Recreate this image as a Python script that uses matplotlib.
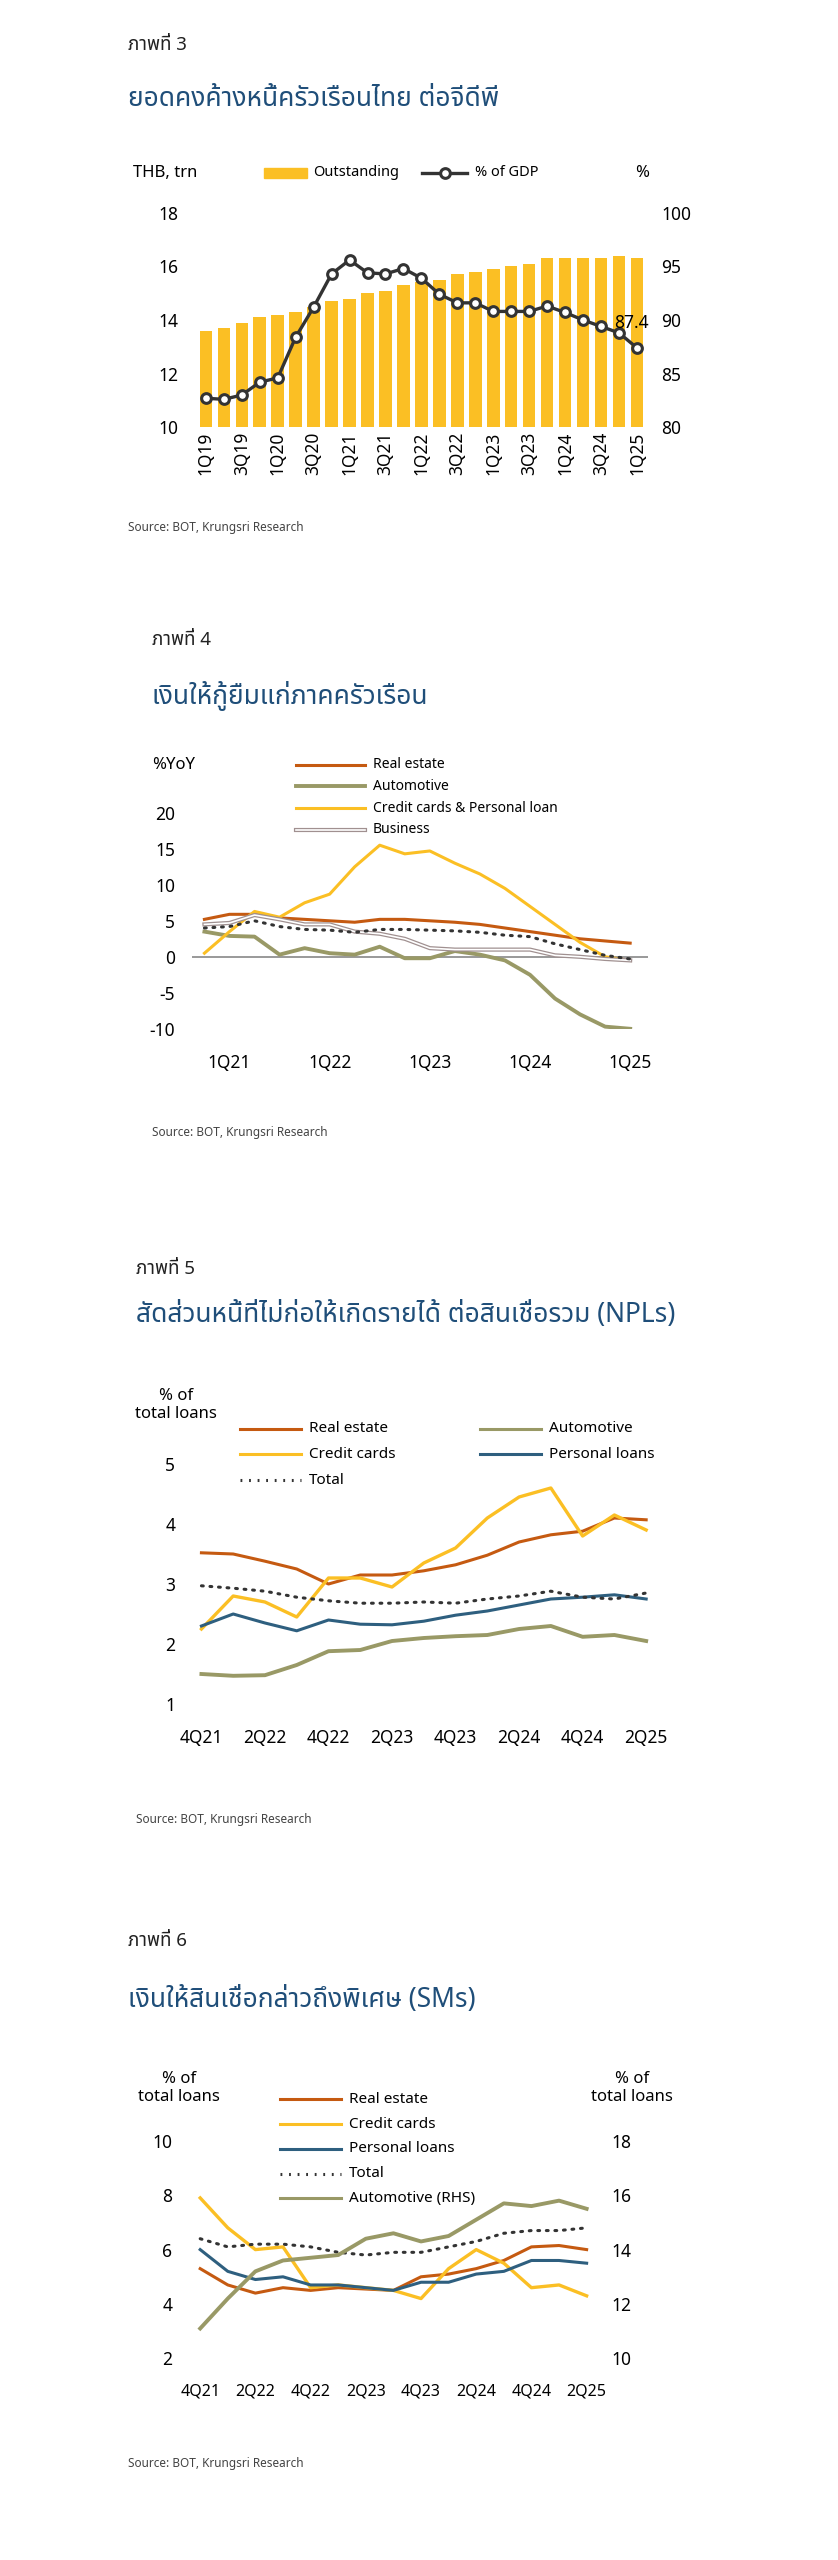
import matplotlib
matplotlib.use("Agg")
import matplotlib.pyplot as plt
import numpy as np

plt.rcParams["font.family"] = ["Noto Sans Thai", "Noto Sans Thai Looped", "Loma", "Garuda", "Noto Sans", "DejaVu Sans"]

# ---- data ----
q1 = ["1Q19", "2Q19", "3Q19", "4Q19", "1Q20", "2Q20", "3Q20", "4Q20", "1Q21", "2Q21", "3Q21", "4Q21",
      "1Q22", "2Q22", "3Q22", "4Q22", "1Q23", "2Q23", "3Q23", "4Q23", "1Q24", "2Q24", "3Q24", "4Q24", "1Q25"]
outstanding = [13.6, 13.7, 13.9, 14.1, 14.2, 14.3, 14.5, 14.7, 14.8, 15.0, 15.1, 15.3, 15.4, 15.5, 15.7,
               15.8, 15.9, 16.0, 16.1, 16.3, 16.3, 16.3, 16.3, 16.4, 16.3]
pct_gdp = [82.7, 82.6, 83.0, 84.2, 84.6, 88.4, 91.2, 94.3, 95.6, 94.4, 94.3, 94.8, 93.9, 92.4, 91.6,
           91.6, 90.8, 90.8, 90.8, 91.3, 90.7, 90.0, 89.4, 88.8, 87.4]

q2 = ["4Q20", "1Q21", "2Q21", "3Q21", "4Q21", "1Q22", "2Q22", "3Q22", "4Q22", "1Q23", "2Q23", "3Q23",
      "4Q23", "1Q24", "2Q24", "3Q24", "4Q24", "1Q25"]
yoy_real = [5.2, 5.9, 5.9, 5.4, 5.2, 5.0, 4.8, 5.2, 5.2, 5.0, 4.8, 4.5, 4.0, 3.5, 3.0, 2.5, 2.2, 1.9]
yoy_auto = [3.5, 2.9, 2.8, 0.3, 1.2, 0.5, 0.3, 1.4, -0.2, -0.2, 0.8, 0.3, -0.5, -2.5, -5.8, -8.0, -9.7, -10.0]
yoy_cc = [0.5, 3.5, 6.3, 5.5, 7.5, 8.7, 12.5, 15.5, 14.3, 14.7, 13.0, 11.5, 9.5, 7.0, 4.5, 2.0, 0.0, -0.5]
yoy_bus = [4.5, 4.7, 5.8, 5.2, 4.5, 4.5, 3.5, 3.2, 2.5, 1.2, 1.0, 1.0, 1.0, 1.0, 0.2, 0.0, -0.3, -0.5]
yoy_total = [4.0, 4.2, 5.0, 4.2, 3.8, 3.7, 3.4, 3.8, 3.8, 3.7, 3.6, 3.4, 3.0, 2.8, 1.8, 1.0, 0.2, -0.3]
ticks2 = ["1Q21", "1Q22", "1Q23", "1Q24", "1Q25"]

q3 = ["4Q21", "1Q22", "2Q22", "3Q22", "4Q22", "1Q23", "2Q23", "3Q23", "4Q23", "1Q24", "2Q24", "3Q24",
      "4Q24", "1Q25", "2Q25"]
ticks3 = ["4Q21", "2Q22", "4Q22", "2Q23", "4Q23", "2Q24", "4Q24", "2Q25"]
npl_real = [3.52, 3.5, 3.38, 3.25, 3.0, 3.15, 3.15, 3.22, 3.32, 3.48, 3.7, 3.82, 3.88, 4.1, 4.07]
npl_cc = [2.25, 2.8, 2.7, 2.45, 3.1, 3.1, 2.95, 3.35, 3.6, 4.1, 4.45, 4.6, 3.8, 4.15, 3.9]
npl_pers = [2.3, 2.5, 2.35, 2.22, 2.4, 2.33, 2.32, 2.38, 2.48, 2.55, 2.65, 2.75, 2.78, 2.82, 2.75]
npl_auto = [1.5, 1.47, 1.48, 1.65, 1.88, 1.9, 2.05, 2.1, 2.13, 2.15, 2.25, 2.3, 2.12, 2.15, 2.05]
npl_total = [2.97, 2.93, 2.88, 2.78, 2.72, 2.68, 2.68, 2.7, 2.68, 2.75, 2.8, 2.88, 2.78, 2.75, 2.85]

sm_real = [5.3, 4.7, 4.4, 4.6, 4.5, 4.6, 4.55, 4.5, 5.0, 5.1, 5.3, 5.6, 6.1, 6.15, 6.0]
sm_cc = [7.9, 6.8, 6.0, 6.1, 4.6, 4.7, 4.6, 4.5, 4.2, 5.3, 6.0, 5.5, 4.6, 4.7, 4.3]
sm_pers = [6.0, 5.2, 4.9, 5.0, 4.7, 4.7, 4.6, 4.5, 4.8, 4.8, 5.1, 5.2, 5.6, 5.6, 5.5]
sm_total = [6.4, 6.1, 6.2, 6.2, 6.1, 5.9, 5.8, 5.9, 5.9, 6.1, 6.3, 6.6, 6.7, 6.7, 6.8]
sm_auto = [11.1, 12.2, 13.2, 13.6, 13.7, 13.8, 14.4, 14.6, 14.3, 14.5, 15.1, 15.7, 15.6, 15.8, 15.5]

ORANGE = "#c55a11"
YELLOW = "#fbbf24"
OLIVE = "#999966"
BLUE = "#2e5f7f"
DARK = "#333333"
TITLE = "#1f4e79"
DOT = (0, (0.6, 2.2))

W, H = 524.0, 1600.0
fig = plt.figure(figsize=(8.38, 25.6), dpi=100)


def ax_at(x0, y0, x1, y1):
    return fig.add_axes([x0 / W, 1 - y1 / H, (x1 - x0) / W, (y1 - y0) / H])


def txt(x, y, s, size=9, **kw):
    fig.text(x / W, 1 - y / H, s, fontsize=size, va="center", **kw)


def clean(ax, size=12.5):
    for s in ax.spines.values():
        s.set_visible(False)
    ax.tick_params(length=0, labelsize=size)


def fig_line(x0, x1, y, **kw):
    fig.lines.append(plt.Line2D([x0 / W, x1 / W], [1 - y / H] * 2, transform=fig.transFigure, **kw))


SRC = "Source: BOT, Krungsri Research"

# ---- chart 1 ----
txt(80, 28, "ภาพที่ 3", 13.5, color="#222222")
txt(80, 62, "ยอดคงค้างหนี้ครัวเรือนไทย ต่อจีดีพี", 19, color=TITLE)
ax = ax_at(122, 133, 405, 267)
x = np.arange(len(q1))
ax.bar(x, outstanding, width=0.7, color=YELLOW)
ax.set_ylim(10, 18)
ax.set_yticks([10, 12, 14, 16, 18])
ax.set_xlim(-0.6, len(q1) - 0.4)
ax.set_xticks(x[::2])
ax.set_xticklabels(q1[::2], rotation=90)
clean(ax)
ax.tick_params(axis="y", pad=12)
ax2 = ax.twinx()
ax2.plot(x, pct_gdp, color=DARK, lw=2.4, marker="o", ms=7, mfc="white", mec=DARK, mew=2.2)
ax2.set_ylim(80, 100)
ax2.set_yticks([80, 85, 90, 95, 100])
clean(ax2)
ax2.tick_params(pad=10)
ax2.annotate("87.4", (x[-1], pct_gdp[-1]), xytext=(-4, 14), textcoords="offset points", ha="center", fontsize=12.5)
txt(83, 108, "THB, trn", 12)
txt(397, 108, "%", 12)
fig.patches.append(plt.Rectangle((165 / W, 1 - 111 / H), 27 / W, 6 / H, color=YELLOW, transform=fig.transFigure))
txt(196, 108, "Outstanding", 10.5)
fig_line(264, 292, 108, color=DARK, lw=2.4)
fig.lines.append(plt.Line2D([278 / W], [1 - 108 / H], color=DARK, marker="o", ms=7, mfc="white", mew=2.2,
                            transform=fig.transFigure))
txt(297, 108, "% of GDP", 10.5)
txt(80, 330, SRC, 8.5, color="#444444")

# ---- chart 2 ----
txt(95, 400, "ภาพที่ 4", 13.5, color="#222222")
txt(95, 435, "เงินให้กู้ยืมแก่ภาคครัวเรือน", 19, color=TITLE)
ax = ax_at(120, 508, 405, 643)
x = np.arange(len(q2))
ax.axhline(0, color="#888888", lw=1.2)
ax.plot(x, yoy_real, color=ORANGE, lw=2.2)
ax.plot(x, yoy_auto, color=OLIVE, lw=2.8)
ax.plot(x, yoy_cc, color=YELLOW, lw=2.2)
ax.plot(x, yoy_bus, color="#a09090", lw=3)
ax.plot(x, yoy_bus, color="white", lw=1.2)
ax.plot(x, yoy_total, color=DARK, lw=2.2, ls=DOT, dash_capstyle="round")
ax.set_ylim(-10, 20)
ax.set_yticks([-10, -5, 0, 5, 10, 15, 20])
ax.set_xlim(-0.5, len(q2) - 0.3)
ax.set_xticks([q2.index(t) for t in ticks2])
ax.set_xticklabels(ticks2)
clean(ax)
ax.tick_params(axis="x", pad=18)
ax.tick_params(axis="y", pad=12)
txt(95, 478, "%YoY", 12)
for i, (lab, col, lw) in enumerate([("Real estate", ORANGE, 2.2), ("Automotive", OLIVE, 2.8),
                                    ("Credit cards & Personal loan", YELLOW, 2.2), ("Business", "#a09090", 3)]):
    ly = 478 + i * 13.5
    fig_line(185, 228, ly, color=col, lw=lw)
    if lab == "Business":
        fig_line(185, 228, ly, color="white", lw=1.2)
    txt(233, ly, lab, 10, fontweight="bold")
txt(95, 708, SRC, 8.5, color="#444444")

# ---- chart 3 ----
txt(85, 793, "ภาพที่ 5", 13.5, color="#222222")
txt(85, 822, "สัดส่วนหนี้ที่ไม่ก่อให้เกิดรายได้ ต่อสินเชื่อรวม (NPLs)", 19, color=TITLE)
ax = ax_at(120, 915, 410, 1065)
x = np.arange(len(q3))
ax.plot(x, npl_real, color=ORANGE, lw=2.2)
ax.plot(x, npl_auto, color=OLIVE, lw=2.8)
ax.plot(x, npl_cc, color=YELLOW, lw=2.4)
ax.plot(x, npl_pers, color=BLUE, lw=2.2)
ax.plot(x, npl_total, color=DARK, lw=2.2, ls=DOT, dash_capstyle="round")
ax.set_ylim(1, 5)
ax.set_yticks([1, 2, 3, 4, 5])
ax.set_xlim(-0.3, len(q3) - 0.7)
ax.set_xticks([q3.index(t) for t in ticks3])
ax.set_xticklabels(ticks3)
clean(ax)
ax.tick_params(axis="x", pad=18)
ax.tick_params(axis="y", pad=12)
txt(110, 878, "% of\ntotal loans", 12, ha="center", linespacing=1.2)
leg3 = [(150, 893, "Real estate", ORANGE, "-"), (150, 909, "Credit cards", YELLOW, "-"),
        (150, 925, "Total", DARK, ":"), (300, 893, "Automotive", OLIVE, "-"), (300, 909, "Personal loans", BLUE, "-")]
for lx, ly, lab, col, ls in leg3:
    fig_line(lx, lx + 38, ly, color=col, lw=2.2, ls=DOT if ls == ":" else "-")
    txt(lx + 43, ly, lab, 11)
txt(85, 1137, SRC, 8.5, color="#444444")

# ---- chart 4 ----
txt(80, 1213, "ภาพที่ 6", 13.5, color="#222222")
txt(80, 1250, "เงินให้สินเชื่อกล่าวถึงพิเศษ (SMs)", 19, color=TITLE)
ax = ax_at(120, 1338, 372, 1474)
ax.plot(x, sm_real, color=ORANGE, lw=2.2)
ax.plot(x, sm_cc, color=YELLOW, lw=2.4)
ax.plot(x, sm_pers, color=BLUE, lw=2.2)
ax.plot(x, sm_total, color=DARK, lw=2.2, ls=DOT, dash_capstyle="round")
ax.set_ylim(2, 10)
ax.set_yticks([2, 4, 6, 8, 10])
ax.set_xlim(-0.3, len(q3) - 0.7)
ax.set_xticks([q3.index(t) for t in ticks3])
ax.set_xticklabels(ticks3)
clean(ax)
ax.tick_params(axis="x", pad=18, labelsize=11.5)
ax.tick_params(axis="y", pad=14)
ax2 = ax.twinx()
ax2.plot(x, sm_auto, color=OLIVE, lw=2.8)
ax2.set_ylim(10, 18)
ax2.set_yticks([10, 12, 14, 16, 18])
clean(ax2)
ax2.tick_params(pad=12)
txt(112, 1305, "% of\ntotal loans", 12, ha="center", linespacing=1.2)
txt(395, 1305, "% of\ntotal loans", 12, ha="center", linespacing=1.2)
leg4 = [("Real estate", ORANGE, "-"), ("Credit cards", YELLOW, "-"), ("Personal loans", BLUE, "-"),
        ("Total", DARK, ":"), ("Automotive (RHS)", OLIVE, "-")]
for i, (lab, col, ls) in enumerate(leg4):
    ly = 1312 + i * 15.5
    fig_line(175, 213, ly, color=col, lw=2.2, ls=DOT if ls == ":" else "-")
    txt(218, ly, lab, 11)
txt(80, 1540, SRC, 8.5, color="#444444")

fig.savefig("out.png", dpi=100, facecolor="white")
